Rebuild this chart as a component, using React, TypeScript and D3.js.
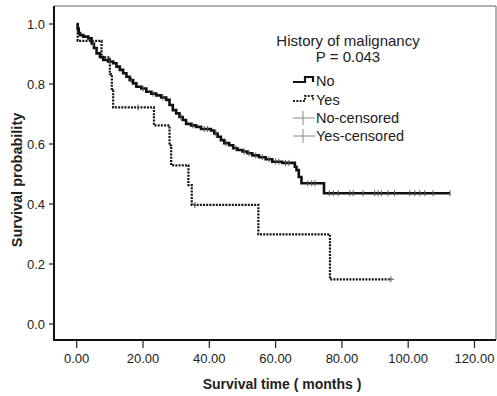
import React from "react";
import * as d3 from "d3";

// ---- Data ----
// Kaplan-Meier steps: [time (months), survival after step]
const noSteps: [number, number][] = [
  [0, 1.0], [0.3, 0.985], [0.6, 0.97], [1.0, 0.963], [2.0, 0.958], [3.5, 0.952],
  [4.5, 0.935], [5.2, 0.92], [6.0, 0.902], [7.0, 0.89], [8.0, 0.88], [9.5, 0.875],
  [11.0, 0.869], [12.0, 0.858], [13.0, 0.847], [14.0, 0.836], [15.0, 0.824],
  [16.0, 0.813], [17.0, 0.802], [18.0, 0.791], [19.5, 0.785], [21.0, 0.774],
  [22.5, 0.768], [24.0, 0.762], [25.5, 0.755], [27.0, 0.747], [28.0, 0.73],
  [29.0, 0.713], [30.0, 0.702], [31.0, 0.69], [32.0, 0.68], [33.0, 0.667],
  [34.5, 0.662], [36.0, 0.657], [37.5, 0.65], [40.5, 0.645], [41.5, 0.635],
  [42.5, 0.624], [43.5, 0.613], [44.5, 0.603], [46.0, 0.596], [47.2, 0.586],
  [48.5, 0.58], [50.0, 0.575], [51.5, 0.569], [53.0, 0.562], [55.0, 0.556],
  [57.0, 0.549], [59.0, 0.541], [62.0, 0.537], [65.8, 0.524], [66.3, 0.513],
  [67.0, 0.49], [67.8, 0.469], [74.6, 0.436],
];
const noEnd = 112.6;
const noCensored: number[] = [
  5, 10, 16.5, 20, 23, 26, 31.5, 35, 38.5, 39.5, 42, 45, 48, 50.5, 52, 54, 56, 58,
  60, 61, 63, 64, 69.7, 70.9, 71.9, 76.2, 77.4, 78.9, 82.4, 83.4, 86.4, 89.9,
  90.9, 91.9, 93.9, 95.9, 100.5, 102, 103.5, 105, 107.5, 112.6,
];

const yesSteps: [number, number][] = [
  [0, 1.0], [0.3, 0.944], [7.5, 0.889], [10.0, 0.833], [10.6, 0.778], [11.0, 0.722],
  [23.3, 0.662], [28.0, 0.595], [28.5, 0.529], [33.7, 0.463], [34.7, 0.397],
  [54.8, 0.299], [76.4, 0.149],
];
const yesEnd = 94.8;
const yesCensored: number[] = [18.5, 35.7, 94.8];

const xTicks = [0, 20, 40, 60, 80, 100, 120];
const yTicks = [0, 0.2, 0.4, 0.6, 0.8, 1.0];

const legendTitle = "History of malignancy";
const legendP = "P = 0.043";
const legendItems = ["No", "Yes", "No-censored", "Yes-censored"];

const FONT = "'Liberation Sans', Arial, sans-serif";

function stepPath(steps: [number, number][], end: number, x: (v: number) => number, y: (v: number) => number) {
  let d = `M${x(steps[0][0])},${y(steps[0][1])}`;
  for (let i = 1; i < steps.length; i++) {
    d += `H${x(steps[i][0])}V${y(steps[i][1])}`;
  }
  d += `H${x(end)}`;
  return d;
}

function survAt(steps: [number, number][], t: number) {
  let s = steps[0][1];
  for (const [tt, ss] of steps) if (tt <= t) s = ss;
  return s;
}

export default function App() {
  const W = 497, H = 396;
  const x = d3.scaleLinear().domain([0, 120]).range([76.7, 474.5]);
  const y = d3.scaleLinear().domain([0, 1]).range([324, 24]);
  const left = 54, bottom = 340, top = 6, right = 496;

  return (
    <svg width={W} height={H} style={{ position: "absolute", left: 0, top: 0, background: "#fff" }}
      fontFamily={FONT}>
      <rect x={0} y={0} width={W} height={H} fill="#fff" />
      {/* frame */}
      <line x1={left} y1={top} x2={right} y2={top} stroke="#999" strokeWidth={1.5} />
      <line x1={right} y1={top} x2={right} y2={bottom} stroke="#999" strokeWidth={1.5} />
      <line x1={left} y1={top} x2={left} y2={bottom + 1} stroke="#111" strokeWidth={2} />
      <line x1={left - 1} y1={bottom} x2={right} y2={bottom} stroke="#111" strokeWidth={2} />

      {/* y ticks */}
      {yTicks.map((t) => (
        <g key={"y" + t}>
          <line x1={left - 5} x2={left} y1={y(t)} y2={y(t)} stroke="#222" strokeWidth={1.2} />
          <text x={45} y={y(t)} dy="0.35em" textAnchor="end" fontSize={13} fill="#222">
            {t.toFixed(1)}
          </text>
        </g>
      ))}
      {/* x ticks */}
      {xTicks.map((t) => (
        <g key={"x" + t}>
          <line x1={x(t)} x2={x(t)} y1={bottom} y2={bottom + 8} stroke="#222" strokeWidth={1.2} />
          <text x={x(t)} y={363} textAnchor="middle" fontSize={13} fill="#222">
            {t.toFixed(2)}
          </text>
        </g>
      ))}

      <text x={282} y={389} textAnchor="middle" fontSize={14} fontWeight="bold" fill="#222">
        Survival time ( months )
      </text>
      <text transform={`translate(22,180) rotate(-90)`} textAnchor="middle" fontSize={14.5}
        fontWeight="bold" fill="#222">
        Survival probability
      </text>

      {/* curves */}
      <path d={stepPath(yesSteps, yesEnd, x, y)} fill="none" stroke="#111" strokeWidth={2.2}
        strokeDasharray="2,1.2" />
      <path d={stepPath(noSteps, noEnd, x, y)} fill="none" stroke="#111" strokeWidth={2.6} />

      {/* censor marks */}
      {noCensored.map((t, i) => (
        <line key={"nc" + i} x1={x(t)} x2={x(t)} y1={y(survAt(noSteps, t)) - 3}
          y2={y(survAt(noSteps, t)) + 3} stroke="#555" strokeWidth={1} />
      ))}
      {yesCensored.map((t, i) => (
        <line key={"yc" + i} x1={x(t)} x2={x(t)} y1={y(survAt(yesSteps, t)) - 3}
          y2={y(survAt(yesSteps, t)) + 3} stroke="#555" strokeWidth={1} />
      ))}
      <line x1={x(yesEnd) - 3} x2={x(yesEnd) + 3} y1={y(survAt(yesSteps, yesEnd))}
        y2={y(survAt(yesSteps, yesEnd))} stroke="#555" strokeWidth={1} />

      {/* legend */}
      <text x={348} y={46} textAnchor="middle" fontSize={15} fill="#222">{legendTitle}</text>
      <text x={348} y={62} textAnchor="middle" fontSize={15} fill="#222">{legendP}</text>

      <path d="M293,82H305V77H313V82" fill="none" stroke="#111" strokeWidth={2.2} />
      <path d="M293,101H305V96H313V101" fill="none" stroke="#222" strokeWidth={2}
        strokeDasharray="2,1.3" />
      <line x1={293} x2={315} y1={118} y2={118} stroke="#888" strokeWidth={1} />
      <line x1={303} x2={303} y1={111} y2={125} stroke="#888" strokeWidth={1} />
      <line x1={293} x2={315} y1={136} y2={136} stroke="#888" strokeWidth={1} />
      <line x1={303} x2={303} y1={129} y2={143} stroke="#888" strokeWidth={1} />
      {legendItems.map((s, i) => (
        <text key={s} x={316} y={[81, 100, 118, 136][i]} dy="0.35em" fontSize={14.5} fill="#222">
          {s}
        </text>
      ))}
    </svg>
  );
}
